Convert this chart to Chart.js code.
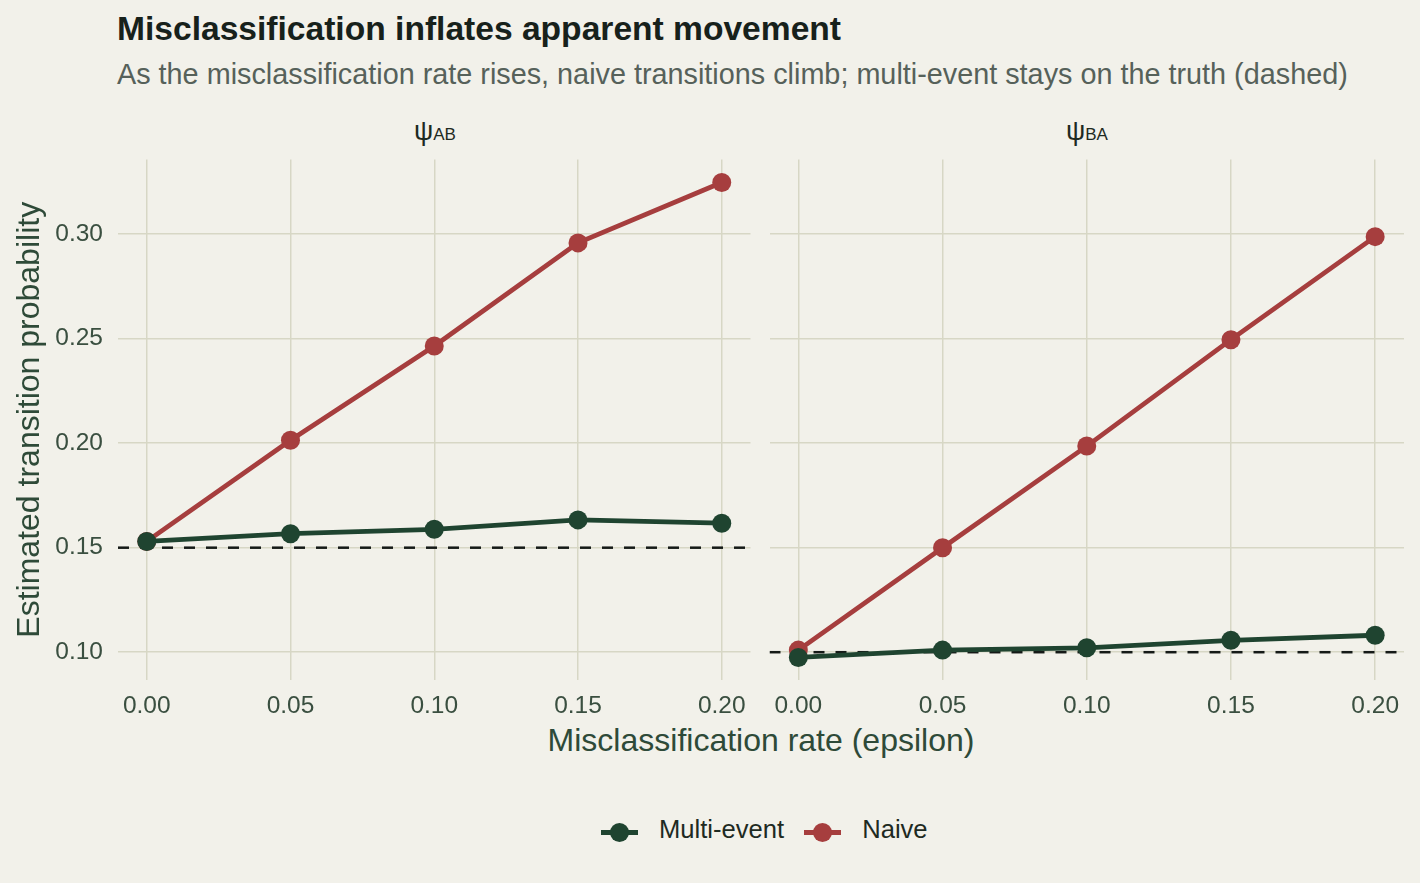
<!DOCTYPE html>
<html>
<head>
<meta charset="utf-8">
<script src="https://cdn.jsdelivr.net/npm/chart.js@4.4.1/dist/chart.umd.min.js"></script>
<style>
  html, body { margin: 0; padding: 0; }
  body { width: 1420px; height: 883px; background: #f2f1ea; position: relative; overflow: hidden;
         font-family: "Liberation Sans", Arial, Helvetica, sans-serif; }
  .txt { position: absolute; white-space: nowrap; line-height: 1; }
  #titulo { left: 117px; top: 12px; font-size: 33.6px; font-weight: bold; color: #17211b; }
  #subtitulo { left: 117px; top: 60px; font-size: 28.8px; color: #56615a; }
  .strip { top: 118px; font-size: 27px; color: #1e2a22; transform: translateX(-50%); }
  .strip sub { font-size: 17px; vertical-align: 0px; }
  #xtitulo { left: 761px; top: 724px; font-size: 32px; color: #2e4a38; transform: translateX(-50%); }
  #leyenda { position: absolute; top: 815px; left: 601px; display: flex; gap: 20px; font-size: 25.6px; line-height: 1; color: #1e2a22; }
  .item { display: flex; align-items: center; gap: 21px; }
  .sim { position: relative; width: 37px; height: 26px; margin-top: 4px; }
  .sim .ln { position: absolute; left: 0; top: 11px; width: 37px; height: 5px; }
  .sim .pt { position: absolute; left: 9px; top: 4px; width: 19px; height: 19px; border-radius: 50%; }
  canvas { position: absolute; }
  #wrapIzq { position: absolute; left: 0; top: 150px; width: 760px; height: 570px; }
  #wrapDer { position: absolute; left: 760px; top: 150px; width: 660px; height: 570px; }
</style>
</head>
<body>
<div class="txt" id="titulo">Misclassification inflates apparent movement</div>
<div class="txt" id="subtitulo">As the misclassification rate rises, naive transitions climb; multi-event stays on the truth (dashed)</div>
<div class="txt strip" style="left:435px">ψ<sub>AB</sub></div>
<div class="txt strip" style="left:1087px">ψ<sub>BA</sub></div>
<div id="wrapIzq"><canvas id="chartAB"></canvas></div>
<div id="wrapDer"><canvas id="chartBA"></canvas></div>
<div class="txt" id="xtitulo">Misclassification rate (epsilon)</div>
<div id="leyenda">
  <div class="item"><div class="sim"><div class="ln" style="background:#1f4430"></div><div class="pt" style="background:#1f4430"></div></div>Multi-event</div>
  <div class="item"><div class="sim"><div class="ln" style="background:#a63e3e"></div><div class="pt" style="background:#a63e3e"></div></div>Naive</div>
</div>
<script>
// datos
const epsilon = [0, 0.05, 0.10, 0.15, 0.20];
const multiAB = [0.153, 0.1567, 0.1588, 0.1633, 0.1617];
const naiveAB = [0.153, 0.2014, 0.2465, 0.2958, 0.3247];
const multiBA = [0.0975, 0.1010, 0.1021, 0.1057, 0.1081];
const naiveBA = [0.1010, 0.1500, 0.1986, 0.2495, 0.2988];
const verdadAB = 0.15;
const verdadBA = 0.10;
const xTicks = [0, 0.05, 0.10, 0.15, 0.20];
const yTicks = [0.10, 0.15, 0.20, 0.25, 0.30];

const verde = '#1f4430';
const rojo = '#a63e3e';
const colorGrid = '#d7d7c5';
const xMin = -0.01, xMax = 0.21;
const yMin = 0.0867, yMax = 0.3357;

function puntos(valores) {
    return epsilon.map((e, i) => ({ x: e, y: valores[i] }));
}

function sinMargen(scale) {
    scale.paddingTop = 0;
    scale.paddingBottom = 0;
    scale.paddingLeft = 0;
    scale.paddingRight = 0;
}

function crearPanel(id, multi, naive, verdad, conEjeY) {
    const ctx = document.getElementById(id).getContext('2d');
    return new Chart(ctx, {
        type: 'line',
        data: {
            datasets: [
                {
                    label: 'Multi-event',
                    data: puntos(multi),
                    borderColor: verde,
                    backgroundColor: verde,
                    borderWidth: 4.8,
                    pointRadius: 9.5,
                    pointHoverRadius: 9.5,
                    pointBorderWidth: 0,
                    order: 1
                },
                {
                    label: 'Naive',
                    data: puntos(naive),
                    borderColor: rojo,
                    backgroundColor: rojo,
                    borderWidth: 4.8,
                    pointRadius: 9.5,
                    pointHoverRadius: 9.5,
                    pointBorderWidth: 0,
                    order: 2
                },
                {
                    label: 'Verdad',
                    data: [{ x: xMin, y: verdad }, { x: xMax, y: verdad }],
                    borderColor: '#151a17',
                    borderWidth: 2.5,
                    borderDash: [11, 11],
                    pointRadius: 0,
                    order: 3
                }
            ]
        },
        options: {
            responsive: true,
            maintainAspectRatio: false,
            animation: false,
            events: [],
            layout: {
                padding: { left: 0, right: conEjeY ? 7 : 16, top: 7, bottom: 0 }
            },
            plugins: {
                legend: { display: false },
                tooltip: { enabled: false }
            },
            scales: {
                x: {
                    type: 'linear',
                    min: xMin,
                    max: xMax,
                    afterBuildTicks: (scale) => { scale.ticks = xTicks.map(v => ({ value: v })); },
                    afterFit: (scale) => { scale.height = 40; sinMargen(scale); },
                    border: { display: false },
                    grid: { color: colorGrid, lineWidth: 1.5, drawTicks: false },
                    ticks: {
                        padding: 12,
                        color: '#3a4f40',
                        font: { size: 24.5, family: 'Liberation Sans' },
                        maxRotation: 0,
                        callback: (v) => v.toFixed(2)
                    }
                },
                y: {
                    min: yMin,
                    max: yMax,
                    afterBuildTicks: (scale) => { scale.ticks = yTicks.map(v => ({ value: v })); },
                    afterFit: (scale) => { scale.width = conEjeY ? 118 : 9; sinMargen(scale); },
                    border: { display: false },
                    grid: { color: colorGrid, lineWidth: 1.5, drawTicks: false },
                    ticks: {
                        display: conEjeY,
                        padding: 15,
                        color: '#3a4f40',
                        font: { size: 24.5, family: 'Liberation Sans' },
                        callback: (v) => v.toFixed(2)
                    },
                    title: {
                        display: conEjeY,
                        text: 'Estimated transition probability',
                        color: '#2e4a38',
                        font: { size: 32, family: 'Liberation Sans' },
                        padding: { top: 11, bottom: 0 }
                    }
                }
            }
        }
    });
}

crearPanel('chartAB', multiAB, naiveAB, verdadAB, true);
crearPanel('chartBA', multiBA, naiveBA, verdadBA, false);
</script>
</body>
</html>
